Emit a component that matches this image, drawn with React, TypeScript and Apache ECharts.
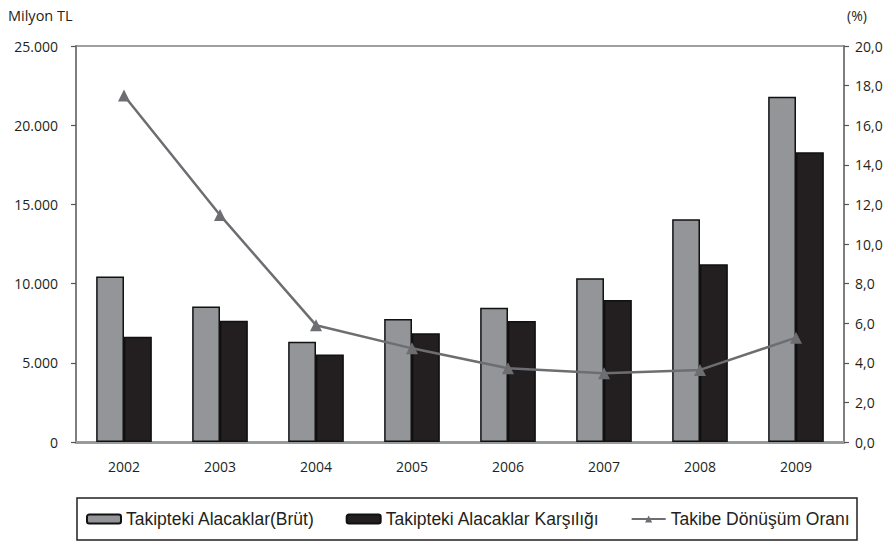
import React, { useEffect, useRef } from "react";
import * as echarts from "echarts";

const years = ["2002", "2003", "2004", "2005", "2006", "2007", "2008", "2009"];
const brut = [10450, 8550, 6330, 7770, 8480, 10330, 14060, 21800];
const karsilik = [6650, 7660, 5530, 6860, 7640, 8960, 11220, 18290];
const oran = [17.5, 11.46, 5.9, 4.73, 3.72, 3.47, 3.64, 5.27];

const FONT = "'Open Sans', 'Noto Sans', sans-serif";

export default function App() {
  const ref = useRef<HTMLDivElement>(null);
  useEffect(() => {
    if (!ref.current) return;
    const chart = echarts.init(ref.current, null, { renderer: "svg" });
    chart.setOption({
      animation: false,
      backgroundColor: "#fff",
      grid: {
        left: 76,
        right: 44,
        top: 46,
        bottom: 101,
        show: true,
        borderColor: "#808080",
        borderWidth: 1.5,
      },
      graphic: [
        {
          type: "text",
          left: 8,
          top: 8,
          style: { text: "Milyon TL", font: `14.5px ${FONT}`, fill: "#231f20" },
        },
        {
          type: "text",
          left: 847,
          top: 8,
          style: { text: "(%)", font: `14px ${FONT}`, fill: "#231f20" },
        },
        {
          type: "rect",
          shape: { x: 77, y: 498, width: 780, height: 42 },
          style: { fill: "none", stroke: "#231f20", lineWidth: 1.5 },
          z: 10,
        },
      ],
      legend: {
        left: 86,
        top: 510,
        itemWidth: 34,
        itemHeight: 9,
        itemGap: 31,
        padding: 0,
        textStyle: { fontFamily: "'Liberation Sans', Arial, sans-serif", fontSize: 17.5, color: "#231f20" },
        data: ["Takipteki Alacaklar(Brüt)", "Takipteki Alacaklar Karşılığı", "Takibe Dönüşüm Oranı"],
      },
      xAxis: {
        type: "category",
        data: years,
        axisTick: { show: false },
        axisLine: { lineStyle: { color: "#999a9c", width: 3 } },
        axisLabel: { margin: 17, fontSize: 14, fontFamily: FONT, color: "#231f20" },
      },
      yAxis: [
        {
          type: "value",
          min: 0,
          max: 25000,
          interval: 5000,
          splitLine: { show: false },
          axisLine: { show: true, lineStyle: { color: "#7f7f7f", width: 2 } },
          axisTick: { show: true, length: 5, lineStyle: { color: "#555", width: 1.2 } },
          axisLabel: {
            margin: 18,
            fontSize: 14,
            fontFamily: FONT,
            color: "#231f20",
            formatter: (v: number) => (v === 0 ? "0" : v.toLocaleString("de-DE")),
          },
        },
        {
          type: "value",
          min: 0,
          max: 20,
          interval: 2,
          position: "right",
          splitLine: { show: false },
          axisLine: { show: true, lineStyle: { color: "#7f7f7f", width: 2 } },
          axisTick: { show: true, length: 5, lineStyle: { color: "#555", width: 1.2 } },
          axisLabel: {
            margin: 11,
            fontSize: 14,
            fontFamily: FONT,
            color: "#231f20",
            formatter: (v: number) => v.toFixed(1).replace(".", ","),
          },
        },
      ],
      series: [
        {
          name: "Takipteki Alacaklar(Brüt)",
          type: "bar",
          data: brut,
          barGap: "0%",
          barCategoryGap: "42%",
          itemStyle: { color: "#939598", borderColor: "#111", borderWidth: 1.5 },
        },
        {
          name: "Takipteki Alacaklar Karşılığı",
          type: "bar",
          data: karsilik,
          itemStyle: { color: "#231f20", borderColor: "#111", borderWidth: 1.5 },
        },
        {
          name: "Takibe Dönüşüm Oranı",
          type: "line",
          yAxisIndex: 1,
          data: oran,
          symbol: "triangle",
          symbolSize: 12,
          lineStyle: { color: "#6d6e71", width: 2.5 },
          itemStyle: { color: "#6d6e71" },
          z: 5,
        },
      ],
    });
    return () => chart.dispose();
  }, []);
  return (
    <div
      ref={ref}
      style={{ width: 888, height: 543, position: "absolute", left: 0, top: 0 }}
    />
  );
}
